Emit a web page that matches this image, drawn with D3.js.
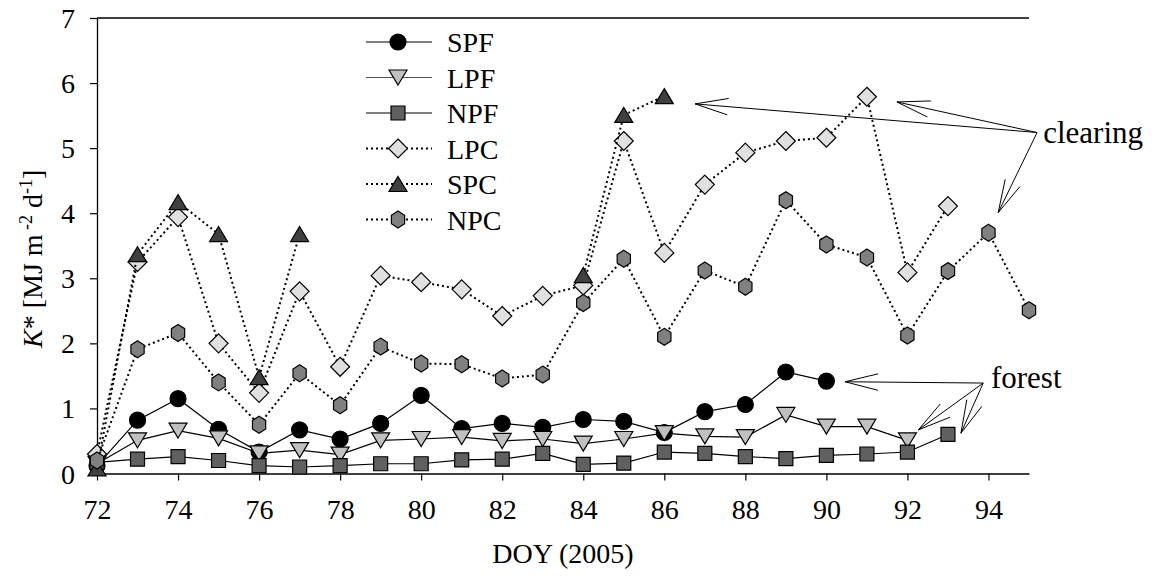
<!DOCTYPE html>
<html>
<head>
<meta charset="utf-8">
<script src="https://cdn.jsdelivr.net/npm/d3@7"></script>
<style>
  body { margin: 0; background: #fff; }
  svg { display: block; font-family: "Liberation Serif", "Times New Roman", serif; }
  svg text { font-family: "Liberation Serif", "Times New Roman", serif; }
</style>
</head>
<body>
<svg id="chart"></svg>
<script>
// day of year
const days = d3.range(72, 96)

// K* values per series, null where there is no measurement
const SPF = [0.12, 0.82, 1.15, 0.68, 0.33, 0.67, 0.53, 0.77, 1.2, 0.69, 0.77, 0.71, 0.83, 0.8, 0.63, 0.95, 1.06, 1.56, 1.42, null, null, null, null, null]
const LPF = [0.15, 0.51, 0.66, 0.54, 0.31, 0.36, 0.29, 0.51, 0.53, 0.56, 0.5, 0.53, 0.46, 0.53, 0.62, 0.57, 0.56, 0.9, 0.72, 0.72, 0.51, null, null, null]
const NPF = [0.17, 0.22, 0.26, 0.2, 0.12, 0.1, 0.12, 0.15, 0.15, 0.21, 0.22, 0.31, 0.14, 0.16, 0.33, 0.31, 0.26, 0.23, 0.28, 0.3, 0.33, 0.6, null, null]
const LPC = [0.3, 3.25, 3.94, 2.0, 1.24, 2.8, 1.64, 3.04, 2.94, 2.83, 2.42, 2.73, 2.89, 5.11, 3.39, 4.44, 4.93, 5.11, 5.16, 5.79, 3.09, 4.11, null, null]
const SPC = [0.08, 3.37, 4.17, 3.68, 1.48, 3.68, null, null, null, null, null, null, 3.05, 5.51, 5.8, null, null, null, null, null, null, null, null, null]
const NPC = [0.2, 1.91, 2.16, 1.4, 0.75, 1.54, 1.05, 1.95, 1.69, 1.68, 1.46, 1.52, 2.62, 3.3, 2.1, 3.12, 2.87, 4.2, 3.52, 3.32, 2.12, 3.11, 3.7, 2.51]

const seriesNames = ['SPF', 'LPF', 'NPF', 'LPC', 'SPC', 'NPC']
const seriesValues = [SPF, LPF, NPF, LPC, SPC, NPC]
const shapes = ['circle', 'triangleDown', 'square', 'diamond', 'triangleUp', 'hexagon']
const fills = ['#000000', '#c0c0c0', '#606060', '#e0e0e0', '#404040', '#808080']
const dotted = [false, false, false, true, true, true]

const xTicks = d3.range(72, 95, 2)
const yTicks = d3.range(0, 8, 1)

// annotations in data units: [day, value]
const annotations = [
    { label: 'clearing', text: [95.35, 5.08], hub: [95.2, 5.24], tips: [[86.76, 5.68], [91.74, 5.71], [94.24, 4.01]] },
    { label: 'forest', text: [94.06, 1.32], hub: [93.87, 1.39], tips: [[90.46, 1.41], [92.27, 0.67], [93.32, 0.62]] }
]

const svgWidth = 1161
const svgHeight = 577
const margin = { left: 97, right: 132, top: 18, bottom: 103.5 }
const serif = '"Liberation Serif", "Times New Roman", serif'

const svg = d3.select('#chart')
    .attr('width', svgWidth)
    .attr('height', svgHeight)

const x = d3.scaleLinear()
    .domain([72, 95])
    .range([margin.left, svgWidth - margin.right])

const y = d3.scaleLinear()
    .domain([0, 7])
    .range([svgHeight - margin.bottom, margin.top])

// marker path builders, all centred on 0,0
function shapePath(shape) {
    const p = d3.path()
    if (shape === 'circle') {
        p.arc(0, 0, 8, 0, 2 * Math.PI)
    } else if (shape === 'square') {
        p.rect(-7, -7, 14, 14)
    } else if (shape === 'diamond') {
        p.moveTo(0, -9.5); p.lineTo(9.5, 0); p.lineTo(0, 9.5); p.lineTo(-9.5, 0)
    } else if (shape === 'triangleUp') {
        p.moveTo(0, -7.5); p.lineTo(9, 7.5); p.lineTo(-9, 7.5)
    } else if (shape === 'triangleDown') {
        p.moveTo(0, 7.5); p.lineTo(9, -7.5); p.lineTo(-9, -7.5)
    } else if (shape === 'hexagon') {
        for (let k = 0; k < 6; k++) {
            const a = Math.PI / 3 * k - Math.PI / 2
            const px = 8.5 * Math.cos(a) * 0.9
            const py = 8.5 * Math.sin(a)
            if (k === 0) p.moveTo(px, py); else p.lineTo(px, py)
        }
    }
    p.closePath()
    return p.toString()
}

// axes frame: left, top and bottom lines
svg.append('line')
    .attr('x1', x(72)).attr('x2', x(95))
    .attr('y1', y(7)).attr('y2', y(7))
    .attr('stroke', 'black').attr('stroke-width', 1.3)

const xAxis = svg.append('g')
    .attr('transform', `translate(0,${y(0)})`)
    .call(d3.axisBottom(x).tickValues(xTicks).tickFormat(d3.format('d'))
        .tickSize(7).tickPadding(17).tickSizeOuter(0))
const yAxis = svg.append('g')
    .attr('transform', `translate(${x(72)},0)`)
    .call(d3.axisLeft(y).tickValues(yTicks).tickFormat(d3.format('d'))
        .tickSize(7).tickPadding(15).tickSizeOuter(0))

for (const ax of [xAxis, yAxis]) {
    ax.attr('font-family', null).attr('font-size', null)
    ax.select('.domain').attr('stroke-width', 1.3)
    ax.selectAll('.tick line').attr('stroke-width', 1.2)
    ax.selectAll('.tick text')
        .style('font-family', serif)
        .style('font-size', '28px')
        .attr('fill', 'black')
}
xAxis.selectAll('.tick text').attr('dy', '0.78em')
yAxis.selectAll('.tick text').attr('dy', '0.34em')

// axis titles
svg.append('text')
    .attr('x', (x(72) + x(95)) / 2)
    .attr('y', 563)
    .attr('text-anchor', 'middle')
    .style('font-size', '28px')
    .text('DOY (2005)')

const yTitle = svg.append('text')
    .attr('transform', `translate(42,${y(3.3)}) rotate(-90)`)
    .attr('text-anchor', 'middle')
    .style('font-size', '28px')
yTitle.append('tspan').attr('font-style', 'italic').text('K')
yTitle.append('tspan').text('* [MJ m')
yTitle.append('tspan').style('font-size', '18px').attr('dy', '-10').text(' -2')
yTitle.append('tspan').attr('dy', '10').text(' d')
yTitle.append('tspan').style('font-size', '18px').attr('dy', '-10').text('-1')
yTitle.append('tspan').attr('dy', '10').text(']')

// series: line then markers
const line = d3.line()
    .defined(d => d.v !== null)
    .x(d => x(d.day))
    .y(d => y(d.v))

seriesValues.forEach((values, i) => {
    const pts = days.map((day, j) => ({ day: day, v: values[j] }))
    svg.append('path')
        .datum(pts)
        .attr('d', line)
        .attr('fill', 'none')
        .attr('stroke', 'black')
        .attr('stroke-width', dotted[i] ? 2 : 1.2)
        .attr('stroke-dasharray', dotted[i] ? '2,3' : null)

    svg.append('g').selectAll('path')
        .data(pts.filter(d => d.v !== null))
        .join('path')
        .attr('transform', d => `translate(${x(d.day)},${y(d.v)})`)
        .attr('d', shapePath(shapes[i]))
        .attr('fill', fills[i])
        .attr('stroke', 'black')
        .attr('stroke-width', 1.2)
})

// legend
const legend = svg.append('g')
seriesNames.forEach((name, i) => {
    const ly = 42 + i * 35.5
    legend.append('line')
        .attr('x1', 366).attr('x2', 432)
        .attr('y1', ly).attr('y2', ly)
        .attr('stroke', i === 1 ? '#555' : 'black')
        .attr('stroke-width', dotted[i] ? 2 : 1.2)
        .attr('stroke-dasharray', dotted[i] ? '2,3' : null)
    legend.append('path')
        .attr('transform', `translate(398,${ly})`)
        .attr('d', shapePath(shapes[i]))
        .attr('fill', fills[i])
        .attr('stroke', 'black')
        .attr('stroke-width', 1.2)
    legend.append('text')
        .attr('x', 447)
        .attr('y', ly + 10)
        .style('font-size', '28px')
        .text(name)
})

// annotation arrows with open heads
const headLen = 34
const headAngle = 14 * Math.PI / 180
annotations.forEach(a => {
    const hx = x(a.hub[0]), hy = y(a.hub[1])
    a.tips.forEach(t => {
        const tx = x(t[0]), ty = y(t[1])
        const ang = Math.atan2(hy - ty, hx - tx)
        svg.append('line')
            .attr('x1', hx).attr('y1', hy).attr('x2', tx).attr('y2', ty)
            .attr('stroke', 'black').attr('stroke-width', 1)
        for (const s of [-1, 1]) {
            svg.append('line')
                .attr('x1', tx).attr('y1', ty)
                .attr('x2', tx + headLen * Math.cos(ang + s * headAngle))
                .attr('y2', ty + headLen * Math.sin(ang + s * headAngle))
                .attr('stroke', 'black').attr('stroke-width', 1)
        }
    })
    svg.append('text')
        .attr('x', x(a.text[0]))
        .attr('y', y(a.text[1]))
        .style('font-size', '31px')
        .text(a.label)
})
</script>
</body>
</html>
